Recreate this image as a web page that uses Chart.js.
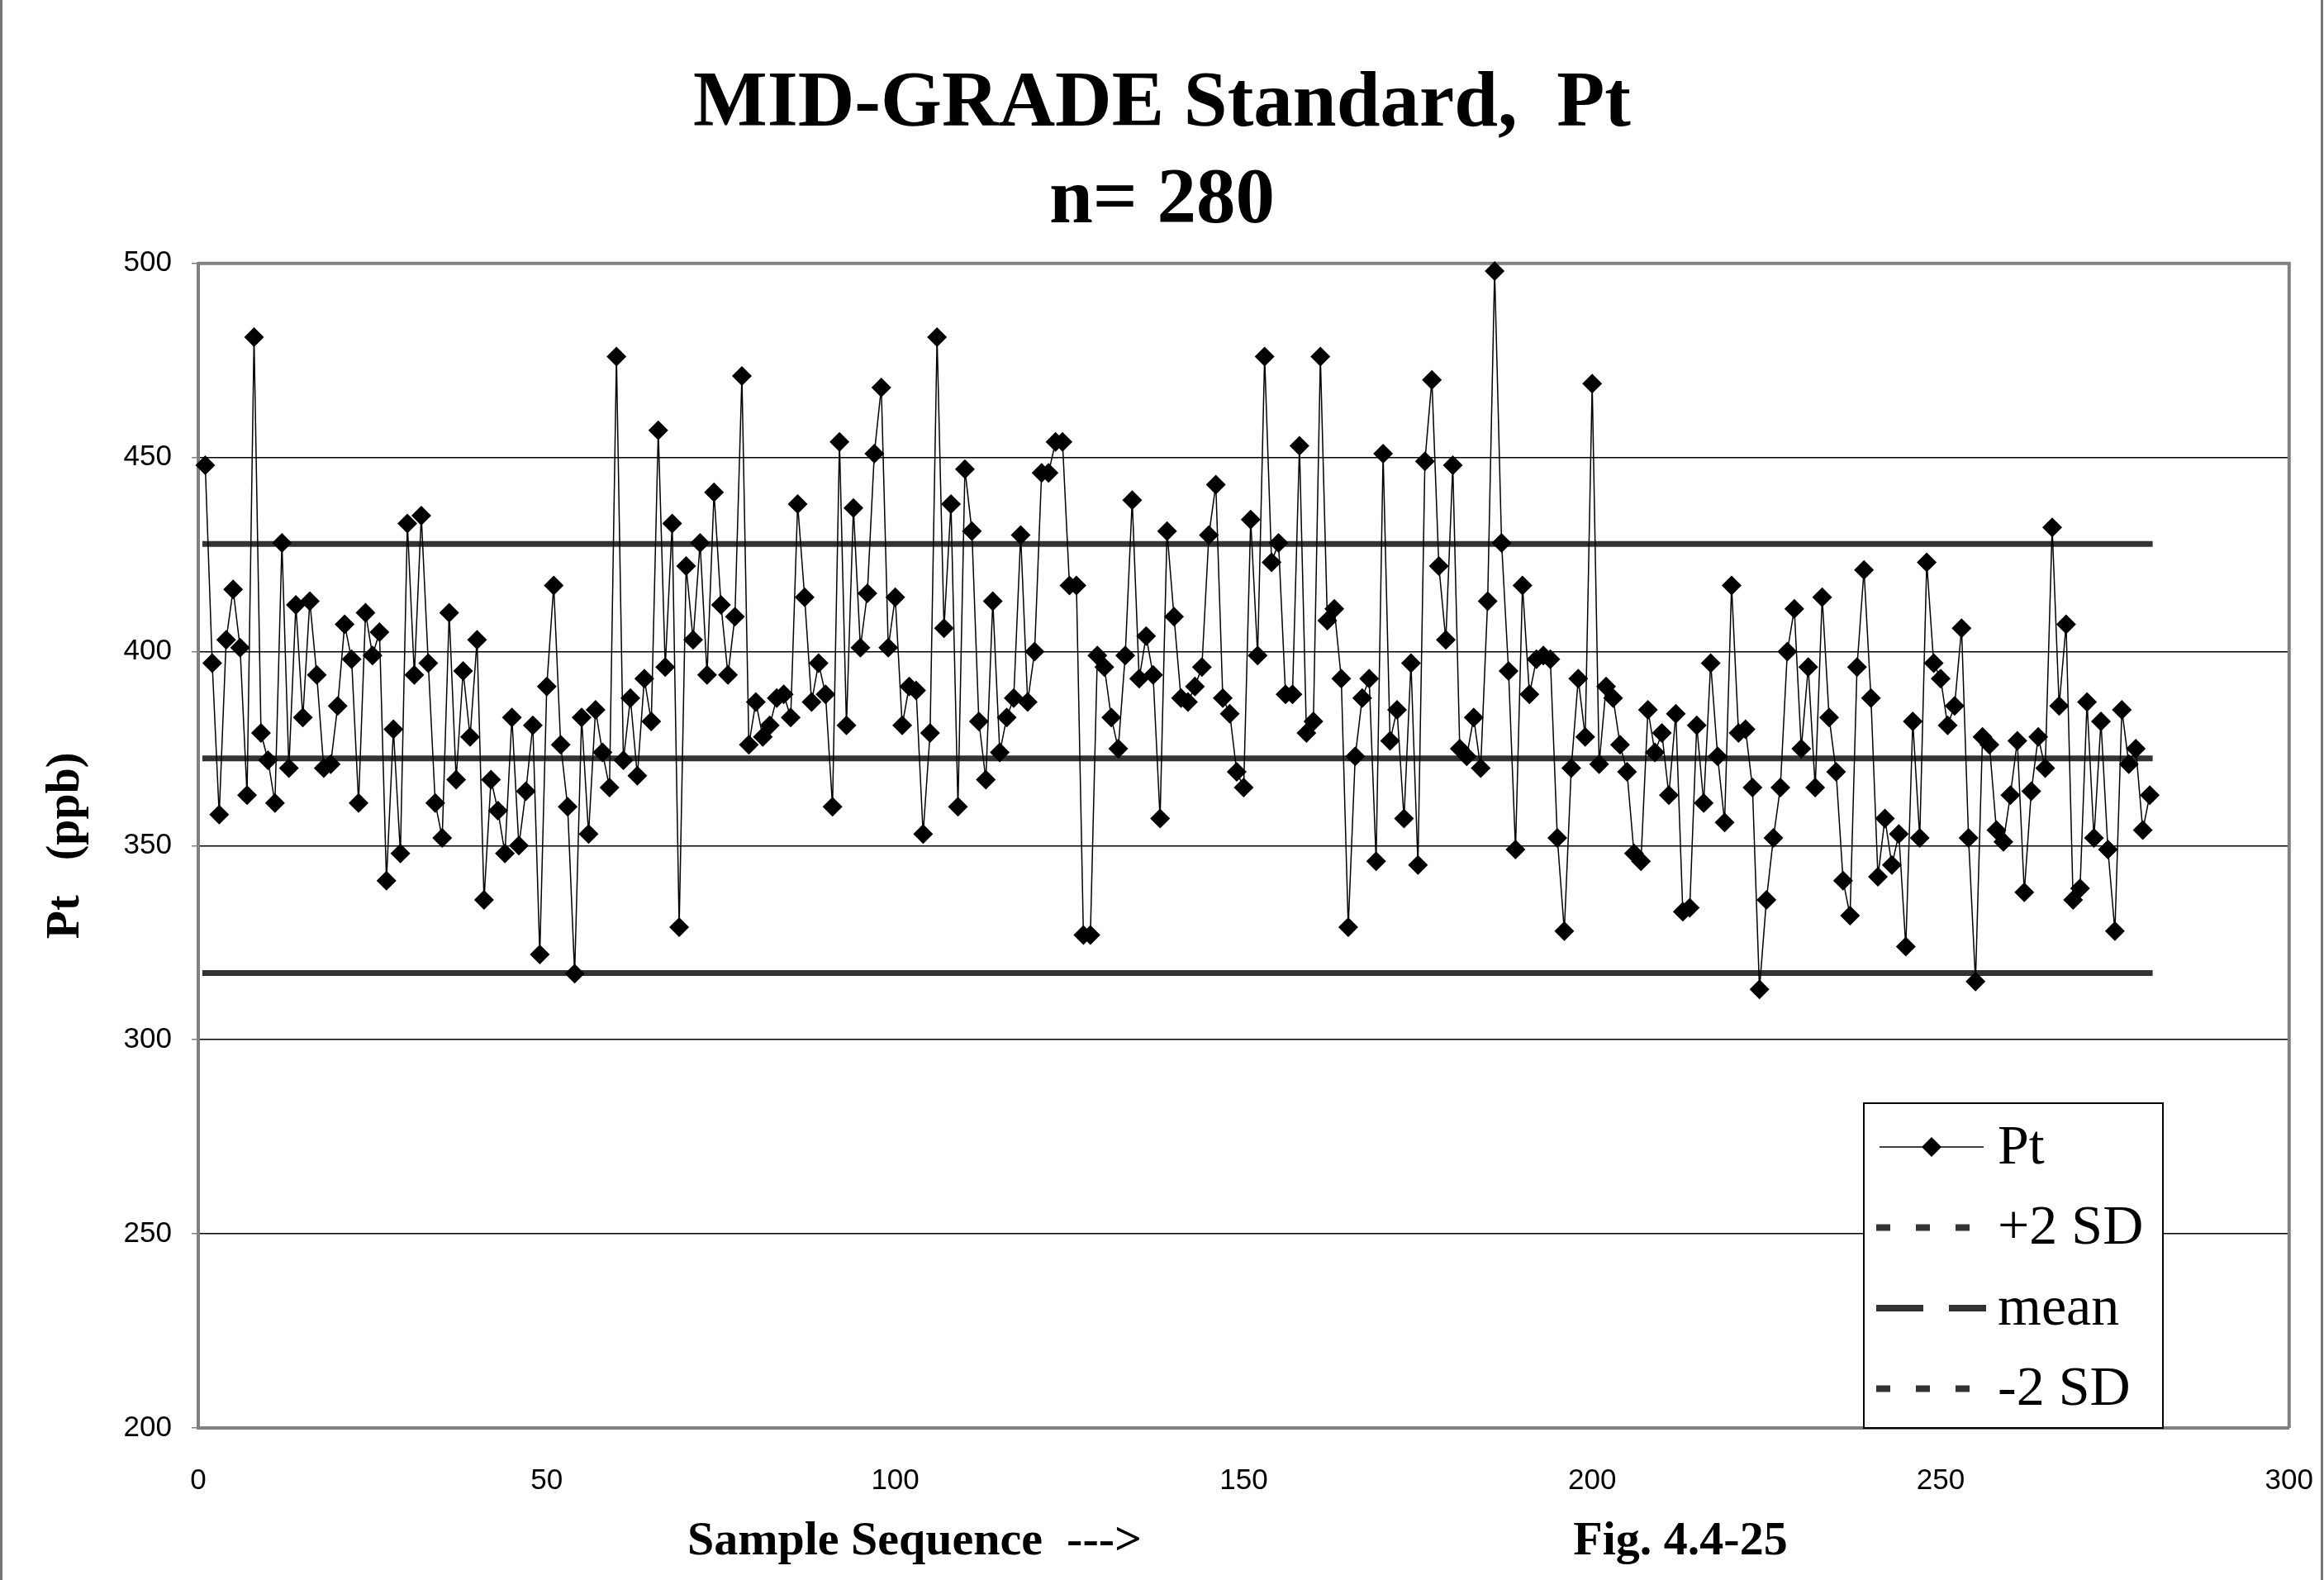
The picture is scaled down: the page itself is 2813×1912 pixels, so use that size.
<!DOCTYPE html>
<html>
<head>
<meta charset="utf-8">
<title>MID-GRADE Standard, Pt</title>
<script src="https://cdn.jsdelivr.net/npm/chart.js@4.4.1/dist/chart.umd.min.js"></script>
<style>
  html, body { margin: 0; padding: 0; background: #fff; }
  #wrap { width: 2813px; height: 1912px; position: relative; }
</style>
</head>
<body>
<div id="wrap"><canvas id="ptChart"></canvas></div>
<script>
// Pt results, samples 1..280 (ppb)
const ptValues = [
  448, 397, 358, 403, 416, 401, 363, 481, 379, 372, 361, 428, 370, 412, 383, 413, 394, 370, 371, 386,
  407, 398, 361, 410, 399, 405, 341, 380, 348, 433, 394, 435, 397, 361, 352, 410, 367, 395, 378, 403,
  336, 367, 359, 348, 383, 350, 364, 381, 322, 391, 417, 376, 360, 317, 383, 353, 385, 374, 365, 476,
  372, 388, 368, 393, 382, 457, 396, 433, 329, 422, 403, 428, 394, 441, 412, 394, 409, 471, 376, 387,
  378, 381, 388, 389, 383, 438, 414, 387, 397, 389, 360, 454, 381, 437, 401, 415, 451, 468, 401, 414,
  381, 391, 390, 353, 379, 481, 406, 438, 360, 447, 431, 382, 367, 413, 374, 383, 388, 430, 387, 400,
  446, 446, 454, 454, 417, 417, 327, 327, 399, 396, 383, 375, 399, 439, 393, 404, 394, 357, 431, 409,
  388, 387, 391, 396, 430, 443, 388, 384, 369, 365, 434, 399, 476, 423, 428, 389, 389, 453, 379, 382,
  476, 408, 411, 393, 329, 373, 388, 393, 346, 451, 377, 385, 357, 397, 345, 449, 470, 422, 403, 448,
  375, 373, 383, 370, 413, 498, 428, 395, 349, 417, 389, 398, 399, 398, 352, 328, 370, 393, 378, 469,
  371, 391, 388, 376, 369, 348, 346, 385, 374, 379, 363, 384, 333, 334, 381, 361, 397, 373, 356, 417,
  379, 380, 365, 313, 336, 352, 365, 400, 411, 375, 396, 365, 414, 383, 369, 341, 332, 396, 421, 388,
  342, 357, 345, 353, 324, 382, 352, 423, 397, 393, 381, 386, 406, 352, 315, 378, 376, 354, 351, 363,
  377, 338, 364, 378, 370, 432, 386, 407, 336, 339, 387, 352, 382, 349, 328, 385, 371, 375, 354, 363
];

const meanPt = 372.5;
const plus2SD = 427.7;
const minus2SD = 317.2;

const xTickValues = [0, 50, 100, 150, 200, 250, 300];
const yTickValues = [200, 250, 300, 350, 400, 450, 500];

const serif = "'Liberation Serif', 'Times New Roman', serif";
const sans = "'Liberation Sans', Arial, sans-serif";

const samples = ptValues.map((v, i) => ({ x: i + 1, y: v }));
const span = [1, ptValues.length];
const limitLine = v => span.map(x => ({ x, y: v }));

// frame, plot border, legend box and the bottom captions
const decorations = {
  id: "decorations",
  beforeDraw(chart) {
    const ctx = chart.ctx;
    ctx.save();
    ctx.fillStyle = "#fff";
    ctx.fillRect(0, 0, chart.width, chart.height);
    ctx.strokeStyle = "#777";
    ctx.lineWidth = 3;
    ctx.beginPath();
    ctx.moveTo(1.5, 0); ctx.lineTo(1.5, chart.height);
    ctx.moveTo(chart.width - 2.5, 0); ctx.lineTo(chart.width - 2.5, chart.height);
    ctx.stroke();
    ctx.restore();
  },
  beforeDatasetsDraw(chart) {
    const { ctx, chartArea: a } = chart;
    ctx.save();
    ctx.strokeStyle = "#808080";
    ctx.lineWidth = 4;
    ctx.beginPath();
    ctx.moveTo(a.left, a.top); ctx.lineTo(a.right, a.top); ctx.lineTo(a.right, a.bottom);
    ctx.stroke();
    ctx.restore();
  },
  afterDraw(chart) {
    const ctx = chart.ctx;
    ctx.save();

    // legend
    const box = { left: 2256, top: 1335, right: 2618, bottom: 1728 };
    ctx.fillStyle = "#fff";
    ctx.fillRect(box.left, box.top, box.right - box.left, box.bottom - box.top);
    ctx.strokeStyle = "#000";
    ctx.lineWidth = 2;
    ctx.strokeRect(box.left, box.top, box.right - box.left, box.bottom - box.top);

    ctx.font = "68px " + serif;
    ctx.textBaseline = "middle";
    ctx.textAlign = "left";
    chart.data.datasets.forEach((ds, i) => {
      const y = 1388 + i * 97.5;
      if (ds.legendDash) {
        ctx.strokeStyle = ds.borderColor;
        ctx.lineWidth = 8;
        ctx.setLineDash(ds.legendDash);
        ctx.beginPath();
        ctx.moveTo(2271, y); ctx.lineTo(2404, y);
        ctx.stroke();
        ctx.setLineDash([]);
      } else {
        ctx.strokeStyle = ds.borderColor;
        ctx.lineWidth = 1.5;
        ctx.beginPath();
        ctx.moveTo(2275, y); ctx.lineTo(2401, y);
        ctx.stroke();
        ctx.fillStyle = ds.pointBackgroundColor;
        ctx.beginPath();
        ctx.moveTo(2326, y); ctx.lineTo(2338, y - 12); ctx.lineTo(2350, y); ctx.lineTo(2338, y + 12);
        ctx.closePath();
        ctx.fill();
      }
      ctx.fillStyle = "#000";
      ctx.fillText(ds.label, 2418, y + 2);
    });

    // captions under the x axis
    ctx.font = "bold 58px " + serif;
    ctx.textAlign = "center";
    ctx.fillStyle = "#000";
    ctx.fillText("Sample Sequence  --->", 1107, 1866);
    ctx.fillText("Fig. 4.4-25", 2034, 1866);
    ctx.restore();
  }
};

document.addEventListener("DOMContentLoaded", () => {
  const canvas = document.getElementById("ptChart");

  new Chart(canvas.getContext("2d"), {
    type: "line",
    data: {
      datasets: [
        {
          label: "Pt",
          data: samples,
          borderColor: "#000",
          borderWidth: 1.5,
          pointStyle: "rectRot",
          pointRadius: 12,
          pointBackgroundColor: "#000",
          pointBorderColor: "#000",
          pointBorderWidth: 0,
          clip: false,
          legendDash: null
        },
        {
          label: "+2 SD",
          data: limitLine(plus2SD),
          borderColor: "#333",
          borderWidth: 7,
          borderCapStyle: "square",
          pointRadius: 0,
          legendDash: [17, 31]
        },
        {
          label: "mean",
          data: limitLine(meanPt),
          borderColor: "#333",
          borderWidth: 7,
          borderCapStyle: "square",
          pointRadius: 0,
          legendDash: [57, 31]
        },
        {
          label: "-2 SD",
          data: limitLine(minus2SD),
          borderColor: "#333",
          borderWidth: 7,
          borderCapStyle: "square",
          pointRadius: 0,
          legendDash: [17, 31]
        }
      ]
    },
    options: {
      responsive: true,
      maintainAspectRatio: false,
      animation: false,
      devicePixelRatio: 1,
      layout: { padding: 0 },
      plugins: {
        legend: { display: false },
        tooltip: { enabled: false },
        title: {
          display: true,
          text: ["MID-GRADE Standard,  Pt", "n= 280"],
          color: "#000",
          font: { family: serif, size: 95, weight: "bold", lineHeight: 1.23 },
          padding: { top: 69, bottom: 16 }
        }
      },
      scales: {
        x: {
          type: "linear",
          min: 0,
          max: 300,
          afterBuildTicks: s => { s.ticks = xTickValues.map(value => ({ value })); },
          afterFit: s => { s.height = 184; },
          // tick padding also sets the right margin (half "300" + 13 = ~42px)
          grid: { drawOnChartArea: false, tickLength: 30, color: "rgba(0,0,0,0)" },
          border: { color: "#808080", width: 4 },
          ticks: { color: "#000", font: { family: sans, size: 35 }, padding: 13, maxRotation: 0 }
        },
        y: {
          min: 200,
          max: 500,
          afterBuildTicks: s => { s.ticks = yTickValues.map(value => ({ value })); },
          afterFit: s => { s.width = 240; },
          grid: {
            color: c => (c.tick && (c.tick.value === 200 || c.tick.value === 500)) ? "rgba(0,0,0,0)" : "#000",
            tickColor: "#808080",
            tickLength: 8,
            lineWidth: 1.5
          },
          border: { color: "#808080", width: 4 },
          ticks: { color: "#000", font: { family: sans, size: 35 }, padding: 24 },
          title: {
            display: true,
            text: "Pt   (ppb)",
            color: "#000",
            font: { family: serif, size: 56, weight: "bold" },
            padding: { top: 47, bottom: 0 }
          }
        }
      }
    },
    plugins: [decorations]
  });
});
</script>
</body>
</html>
